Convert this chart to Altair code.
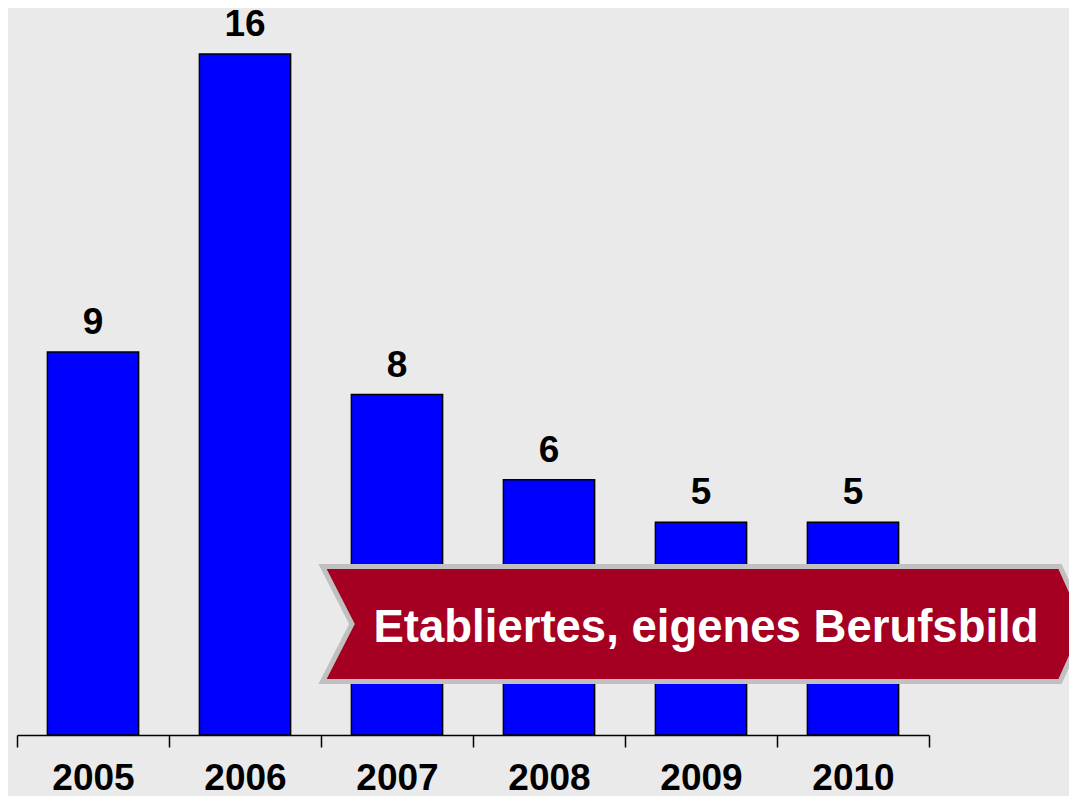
import altair as alt
import pandas as pd

years = ["2005", "2006", "2007", "2008", "2009", "2010"]
values = [9, 16, 8, 6, 5, 5]
banner_text = ["Etabliertes, eigenes Berufsbild"]

df = pd.DataFrame({"year": years, "value": values})
FONT = "Liberation Sans"

x = alt.X(
    "year:N",
    sort=years,
    scale=alt.Scale(paddingInner=0, paddingOuter=0),
    axis=alt.Axis(
        title=None, labelAngle=0, labelFont=FONT, labelFontSize=37,
        labelFontWeight="bold", labelColor="black", domainColor="black",
        domainWidth=1.5, tickColor="black", tickWidth=1.5, tickSize=12,
        tickBand="extent", labelPadding=13,
    ),
)
y = alt.Y("value:Q", scale=alt.Scale(domain=[0, 16], nice=False), axis=None)

bars = alt.Chart(df).mark_bar(
    color="#0000ff", stroke="black", strokeWidth=1.5,
    width=alt.RelativeBandSize(0.6),
).encode(x=x, y=y)
labels = alt.Chart(df).mark_text(
    font=FONT, fontSize=37, fontWeight="bold", color="black",
    baseline="alphabetic", dy=-18,
).encode(x=x, y=y, text="value:Q")

banner_path = "M -385.5 -57.5 L 352 -57.5 L 378 0 L 352 57.5 L -385.5 57.5 L -356 0 Z"
bdf = pd.DataFrame({"t": banner_text})
banner = alt.Chart(bdf).mark_point(
    shape=banner_path, size=4, filled=True, fill="#a50021", stroke="#c0c0c0",
    strokeWidth=5, opacity=1, fillOpacity=1, strokeOpacity=1, strokeJoin="miter",
).encode(x=alt.value(691), y=alt.value(570))
banner_label = alt.Chart(bdf).mark_text(
    font=FONT, fontSize=45.5, fontWeight="bold", color="white",
    align="center", baseline="alphabetic",
).encode(x=alt.value(689), y=alt.value(588), text="t:N")

chart = alt.layer(bars, labels, banner, banner_label).properties(
    width=912, height=681,
    autosize=alt.AutoSizeParams(type="none"),
    padding={"left": 9, "top": 46, "right": 140, "bottom": 61},
    background="#eaeaea",
).configure_view(stroke=None)

chart.save("out.html", embed_options={"renderer": "svg", "actions": False})
